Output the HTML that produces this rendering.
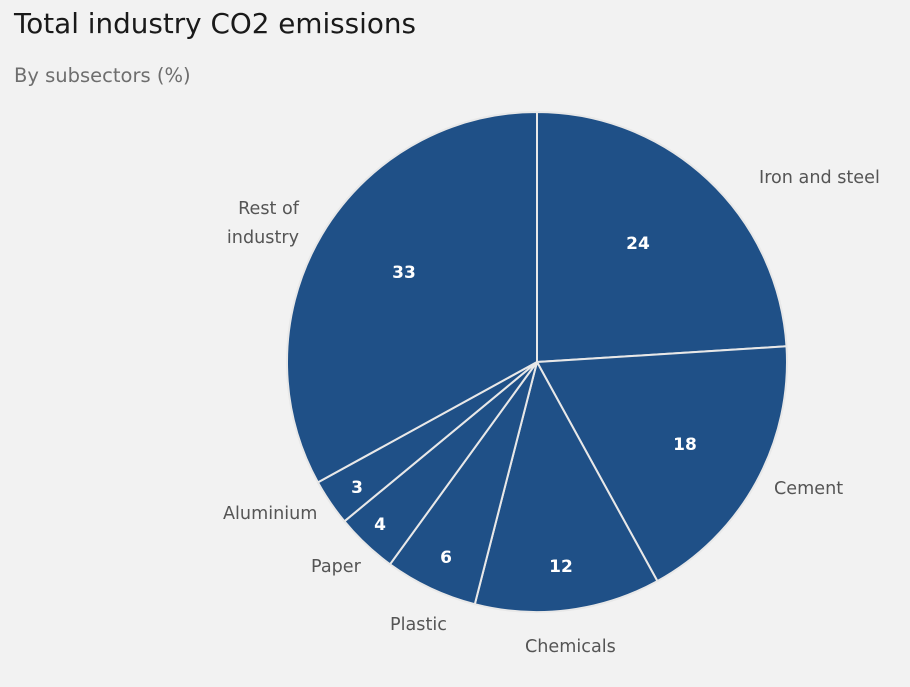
<!DOCTYPE html>
<html><head><meta charset="utf-8"><style>
html,body{margin:0;padding:0;background:#f2f2f2;}
svg{display:block;font-family:"DejaVu Sans","Liberation Sans",sans-serif;}
</style></head><body>
<svg width="910" height="687" viewBox="0 0 910 687">
<rect width="910" height="687" fill="#f2f2f2"/>
<text x="14" y="33" font-size="27.8" fill="#1a1a1a">Total industry CO2 emissions</text>
<text x="14" y="82" font-size="19.5" fill="#6e6e6e">By subsectors (%)</text>
<g fill="#1f5087" stroke="#e8e8e8" stroke-width="2" stroke-linejoin="round">
<path d="M537,362 L537,112 A250,250 0 0 1 786.5,346.3 Z"/>
<path d="M537,362 L786.5,346.3 A250,250 0 0 1 657.4,581.1 Z"/>
<path d="M537,362 L657.4,581.1 A250,250 0 0 1 474.8,604.2 Z"/>
<path d="M537,362 L474.8,604.2 A250,250 0 0 1 390.0,564.3 Z"/>
<path d="M537,362 L390.0,564.3 A250,250 0 0 1 344.4,521.3 Z"/>
<path d="M537,362 L344.4,521.3 A250,250 0 0 1 317.9,482.4 Z"/>
<path d="M537,362 L317.9,482.4 A250,250 0 0 1 537,112 Z"/>
</g>
<g fill="#ffffff" font-size="17" font-weight="bold" text-anchor="middle">
<text x="638" y="249">24</text>
<text x="685" y="450">18</text>
<text x="561" y="572">12</text>
<text x="446" y="563">6</text>
<text x="380" y="530">4</text>
<text x="357" y="493">3</text>
<text x="404" y="278">33</text>
</g>
<g fill="#555" font-size="17.6">
<text x="759" y="183">Iron and steel</text>
<text x="774" y="494">Cement</text>
<text x="525" y="652">Chemicals</text>
<text x="390" y="630">Plastic</text>
<text x="311" y="572">Paper</text>
<text x="223" y="519">Aluminium</text>
<text x="299" y="214" text-anchor="end">Rest of</text>
<text x="299" y="243" text-anchor="end">industry</text>
</g>
</svg>
</body></html>
